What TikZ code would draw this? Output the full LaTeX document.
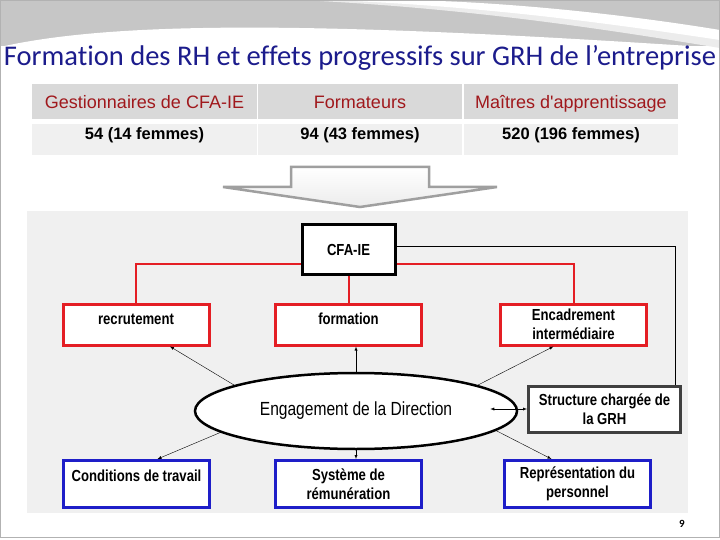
\documentclass[tikz,border=0pt]{standalone}
\usepackage{fontspec}
\setmainfont{Liberation Sans}
\newfontfamily\titlefont[Ligatures=NoCommon]{Carlito}
\newfontfamily\headfont{Liberation Sans}
\newfontfamily\narrowfont[FakeStretch=0.82]{Liberation Sans}
\usetikzlibrary{shapes.geometric,calc}
\definecolor{titleblue}{RGB}{28,28,140}
\definecolor{headred}{RGB}{160,24,28}
\definecolor{headgray}{RGB}{217,217,217}
\definecolor{rowgray}{RGB}{240,240,240}
\definecolor{boxred}{RGB}{228,30,36}
\definecolor{boxblue}{RGB}{30,30,200}
\definecolor{darkframe}{RGB}{64,64,64}
\begin{document}
\begin{tikzpicture}[x=1pt, y=-1pt,
  headcell/.style={fill=headgray, minimum height=35pt, inner sep=0pt, text height=16pt, text depth=1pt, text=headred, font=\headfont\fontsize{18}{20}\selectfont},
  rowcell/.style={fill=rowgray, minimum height=31pt, inner sep=0pt, text height=13pt, text depth=12pt, font=\bfseries\fontsize{16.5}{18}\selectfont},
  orgbox/.style={line width=3pt, fill=white, minimum width=146pt, minimum height=41pt, inner sep=0pt, align=center, font=\narrowfont\bfseries\fontsize{16}{19.5}\selectfont},
  redbox/.style={orgbox, draw=boxred},
  bluebox/.style={orgbox, draw=boxblue, minimum height=47pt},
  oneline/.style={text height=12pt, text depth=#1},
  link/.style={-latex, thin},
  redline/.style={draw=boxred, line width=2pt}]
\useasboundingbox (0,0) rectangle (720,540);
% slide background
\fill[gray!45] (0,0) rectangle (720,46);
\fill[white] (0,47) .. controls (120,20) and (330,22) .. (720,48) -- (720,80) -- (0,80) -- cycle;
\fill[gray!15] (300,0) .. controls (470,8) and (610,30) .. (720,48) -- (720,36) .. controls (620,18) and (480,2) .. (360,0) -- cycle;
\fill[white] (330,0) .. controls (480,6) and (600,22) .. (720,40) -- (720,30) .. controls (610,12) and (490,1) .. (400,0) -- cycle;
\draw[gray!60, line width=1pt] (0.5,0.5) rectangle (719.5,537.5);
\node[font=\titlefont\fontsize{28.5}{32}\selectfont, text=titleblue, inner sep=0pt] (title) at (360,58) {Formation des RH et effets progressifs sur GRH de l’entreprise};
% table
\node[headcell, minimum width=225pt] (h1) at (144.5,101.5) {Gestionnaires de CFA-IE};
\node[headcell, minimum width=204pt] (h2) at (360,101.5) {Formateurs};
\node[headcell, minimum width=214pt] (h3) at (571,101.5) {Maîtres d'apprentissage};
\node[rowcell, minimum width=225pt] (v1) at (144.5,139.5) {54 (14 femmes)};
\node[rowcell, minimum width=204pt] (v2) at (360,139.5) {94 (43 femmes)};
\node[rowcell, minimum width=214pt] (v3) at (571,139.5) {520 (196 femmes)};
% big arrow
\draw[gray!75, line width=2.5pt, top color=white, bottom color=gray!15] (291,167) -- (429,167) -- (429,187) -- (497,187) -- (360,207) -- (223,187) -- (291,187) -- cycle;
% diagram panel
\fill[rowgray] (27,211) rectangle (688,513);
\node[draw=black, line width=3pt, fill=white, minimum width=93pt, minimum height=49pt, font=\narrowfont\bfseries\fontsize{16}{18}\selectfont] (cfa) at (348.5,249.5) {CFA-IE};
\node[redbox, oneline=12pt] (rec) at (136,324.5) {recrutement};
\node[redbox, oneline=12pt] (form) at (348.5,324.5) {formation};
\node[redbox] (enc) at (573.5,324.5) {Encadrement\\intermédiaire};
\node[draw=black, line width=2.5pt, fill=white, ellipse, minimum width=322pt, minimum height=76pt, font=\narrowfont\fontsize{19}{20}\selectfont] (eng) at (356,411) {Engagement de la Direction};
\node[orgbox, draw=darkframe, minimum width=152pt, minimum height=46pt] (grh) at (604.5,409) {Structure chargée de\\la GRH};
\node[bluebox, oneline=18pt] (cond) at (136.5,484) {Conditions de travail};
\node[bluebox] (remu) at (348.5,484) {Système de\\rémunération};
\node[bluebox] (repr) at (577.5,484) {Représentation du\\personnel};
% red links from CFA-IE
\draw[redline] (cfa.west |- 0,264) -| (rec.north);
\draw[redline] (cfa.east |- 0,264) -| (enc.north);
\draw[redline] (cfa.south) -- (form.north);
\draw[thin] (cfa.east |- 0,246) -| (grh.north -| 675,0);
% links from the direction
\draw[link] (eng.168) -- ($(rec.south)+(34,0)$);
\draw[link] (eng.north) -- (eng.north |- form.south);
\draw[link] (eng.12.5) -- ($(enc.south)+(-20,0)$);
\draw[latex-latex, thin] ($(eng.east)+(-28,-2)$) -- (grh.west);
\draw[link] (eng.189) -- ($(cond.north)+(21,0)$);
\draw[link] (eng.south) -- (eng.south |- remu.north);
\draw[link] (eng.-8.5) -- ($(repr.north)+(-26,0)$);
\node[font=\titlefont\bfseries\fontsize{11}{12}\selectfont] (page) at (682,524) {9};
\end{tikzpicture}
\end{document}
